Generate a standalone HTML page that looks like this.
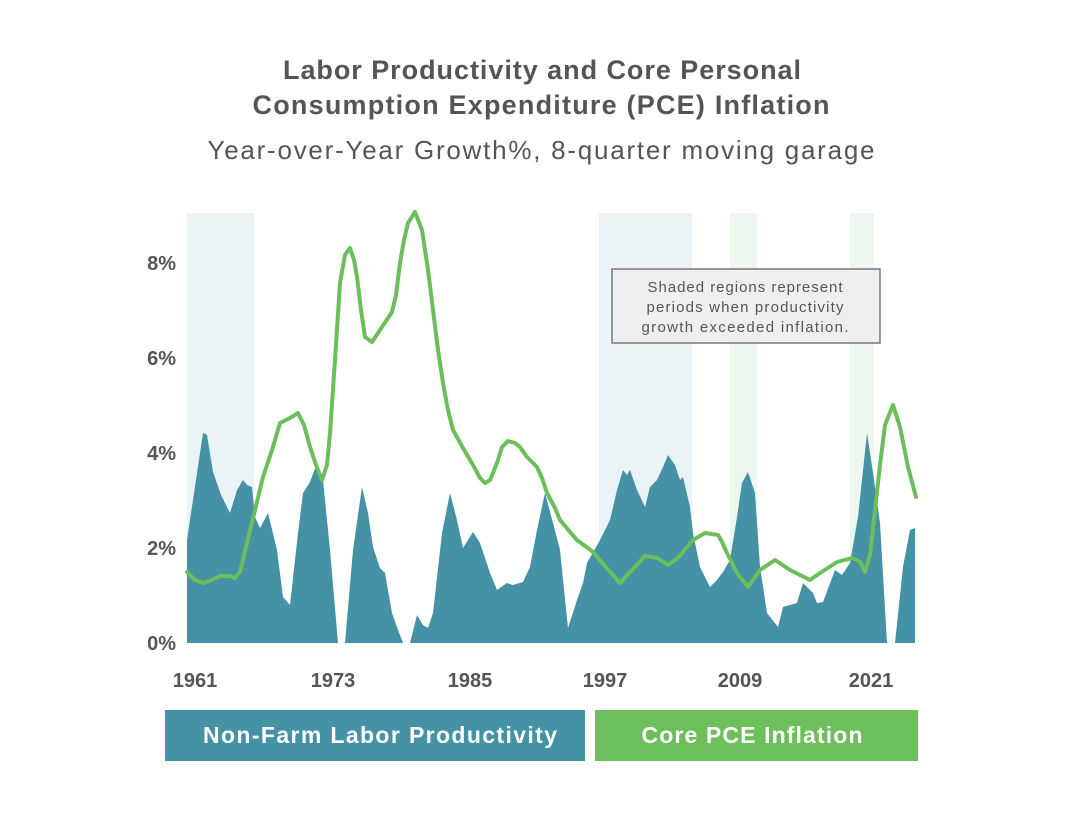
<!DOCTYPE html>
<html><head><meta charset="utf-8"><style>
body{margin:0;background:#fff;}
svg{display:block;font-family:"Liberation Sans",sans-serif;}
</style></head><body>
<svg width="1083" height="820" viewBox="0 0 1083 820">
<rect width="1083" height="820" fill="#fff"/>
<text x="542" y="79" text-anchor="middle" font-size="27" font-weight="bold" fill="#555" textLength="518" lengthAdjust="spacing">Labor Productivity and Core Personal</text>
<text x="541" y="114" text-anchor="middle" font-size="27" font-weight="bold" fill="#555" textLength="577" lengthAdjust="spacing">Consumption Expenditure (PCE) Inflation</text>
<text x="541" y="159" text-anchor="middle" font-size="26" fill="#555" textLength="667" lengthAdjust="spacing">Year-over-Year Growth%, 8-quarter moving garage</text>
<rect x="187" y="213" width="67" height="430" fill="#eaf3f5"/>
<rect x="599" y="213" width="93" height="430" fill="#eaf3f5"/>
<rect x="730" y="213" width="27" height="430" fill="#edf7ee"/>
<rect x="850" y="213" width="24" height="430" fill="#edf7ee"/>
<polygon fill="#4591a5" points="187,643 187,540 203,433 207,435 213,472 221,495 226,505 230,513 237,490 243,480 247,485 252,487 255,517 260,528 268,513 277,550 283,597 290,605 298,533 303,493 310,482 317,463 323,480 330,550 338,643 345,643 353,550 362,487 368,513 373,547 380,568 385,573 392,613 398,630 403,643 410,643 417,615 423,625 428,628 433,613 442,533 450,493 457,520 463,548 473,532 480,543 490,573 497,590 507,583 513,585 523,582 530,567 537,530 545,493 553,523 560,550 568,628 577,600 583,583 587,563 600,540 610,520 617,490 623,470 627,475 630,470 637,490 645,507 650,487 657,480 663,467 668,455 675,465 680,480 683,477 690,507 693,533 700,567 710,587 717,580 723,572 730,560 737,517 742,483 748,472 755,493 760,567 767,613 778,627 783,607 797,603 803,583 813,593 817,603 823,602 835,570 842,575 850,563 858,517 867,433 873,473 880,523 887,643 895,643 903,567 910,530 915,528 915,643"/>
<polyline fill="none" stroke="#6abf5a" stroke-width="4" stroke-linejoin="round" stroke-linecap="round" points="187,572 195,580 203,583 212,580 220,576 230,576 235,578 240,572 247,543 255,510 263,477 272,450 280,423 290,418 298,413 304,425 310,447 316,465 322,480 327,465 330,433 335,360 340,283 345,255 350,248 354,260 357,277 361,310 365,337 372,342 380,330 392,312 396,295 400,263 404,240 408,223 415,212 422,230 428,270 433,310 438,350 443,383 448,410 453,430 463,448 473,465 480,478 485,483 490,480 493,473 498,460 502,447 508,441 515,443 520,447 527,457 537,467 542,478 547,493 555,508 560,520 570,532 577,540 593,552 605,566 620,583 632,570 645,556 657,558 668,565 678,558 693,540 705,533 718,535 722,542 727,553 737,573 748,587 760,570 775,560 790,570 810,580 820,573 837,562 852,558 860,562 865,572 870,555 875,510 880,465 885,425 893,405 900,427 908,467 916,497"/>
<rect x="612" y="269" width="268" height="74" fill="#eeeff1" stroke="#777" stroke-width="1.5"/>
<text font-size="15" fill="#555" text-anchor="middle"><tspan x="745" y="292" textLength="195" lengthAdjust="spacing">Shaded regions represent</tspan><tspan x="745" y="312" textLength="197" lengthAdjust="spacing">periods when productivity</tspan><tspan x="745" y="332" textLength="207" lengthAdjust="spacing">growth exceeded inflation.</tspan></text>
<g font-size="20" font-weight="bold" fill="#555" text-anchor="end">
<text x="176" y="270">8%</text><text x="176" y="365">6%</text><text x="176" y="460">4%</text><text x="176" y="555">2%</text><text x="176" y="650">0%</text>
</g>
<g font-size="20" font-weight="bold" fill="#555" text-anchor="middle">
<text x="195" y="687">1961</text><text x="333" y="687">1973</text><text x="470" y="687">1985</text><text x="605" y="687">1997</text><text x="740" y="687">2009</text><text x="871" y="687">2021</text>
</g>
<rect x="165" y="710" width="420" height="51" fill="#4591a5"/>
<rect x="595" y="710" width="323" height="51" fill="#6dbf5c"/>
<text x="380" y="743" text-anchor="middle" font-size="23" font-weight="bold" fill="#fff" textLength="354" lengthAdjust="spacing">Non-Farm Labor Productivity</text>
<text x="752" y="743" text-anchor="middle" font-size="23" font-weight="bold" fill="#fff" textLength="221" lengthAdjust="spacing">Core PCE Inflation</text>
</svg>
</body></html>
